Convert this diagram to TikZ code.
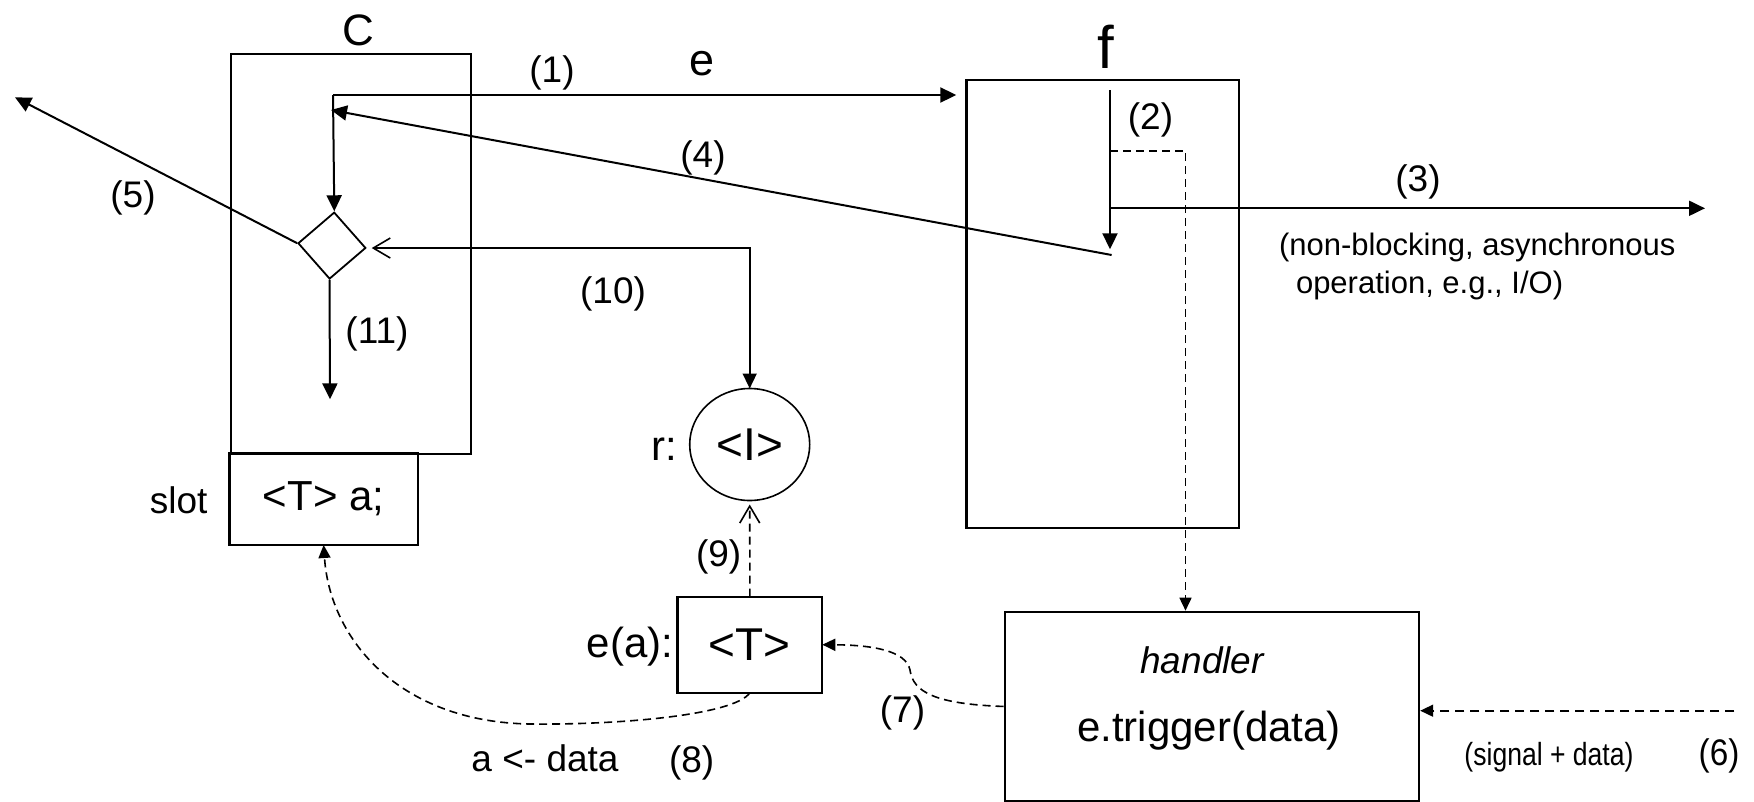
\documentclass[tikz,border=0pt]{standalone}
\usepackage{fontspec}
\setmainfont{Liberation Sans}
\usetikzlibrary{arrows.meta,shapes.geometric,calc}

\tikzset{
  fs/.style={font=\fontsize{#1}{#1}\selectfont, inner sep=0pt, outer sep=0pt},
  box/.style={draw, line width=2.2pt, inner sep=0pt, anchor=north west},
  solidarrow/.style={line width=2pt, -{Triangle[length=16pt,width=15pt]}},
  dasharrow/.style={line width=1.6pt, dash pattern=on 8pt off 5pt, -{Triangle[length=13pt,width=12pt]}},
  openbarb/.tip={Straight Barb[length=17pt,width=20pt,line width=1.6pt]},
}

\begin{document}
\begin{tikzpicture}[x=1pt,y=-1pt]
\useasboundingbox (0,0) rectangle (1754,801);
\fill[white] (0,0) rectangle (1754,801);

% caller C with its slot
\node[box, minimum width=240.5pt, minimum height=400.2pt] (cbox) at (229.5,52.5) {};
\node[box, minimum width=188.3pt, minimum height=92.3pt, fs=42] (slot) at (229.5,452.7) {<T> a;};
\node[fs=44] (clab) at (358,30) {C};
\node[fs=37] (slotlab) at (178.6,500) {slot};

% function f
\node[box, minimum width=272.5pt, minimum height=447.8pt] (fbox) at (965.3,78.7) {};
\node[fs=60] (flab) at (1106,47) {f};

% handler
\node[box, minimum width=414.5pt, minimum height=189.3pt] (hd) at (1003.5,610.7) {};
\node[fs=37] (hdname) at (1202,660) {\itshape handler};
\node[fs=42] (hdcall) at (1209,731) {e.trigger(data)};

% event e(a) and result r
\node[box, minimum width=144.8pt, minimum height=96pt, fs=46] (ea) at (677.5,596.7) {<T>};
\node[fs=42] (ealab) at (630,646.7) {e(a):};
\node[draw, ellipse, line width=1.6pt, minimum width=120pt, minimum height=112pt, inner sep=0pt, fs=46] (r) at (749.7,444.5) {<I>};
\node[fs=42] (rlab) at (664.7,449) {r:};

% decision inside C
\node[draw, diamond, aspect=1, line width=1.8pt, minimum width=68pt, minimum height=67pt, inner sep=0pt, rotate=-4] (dia) at (331.9,245.6) {};

% inner points
\coordinate (k1) at (333,95);
\coordinate (fa) at (1110,90);
\coordinate (fz) at (1110,249.3);
\coordinate (b2) at (1110,150.7);
\coordinate (b2e) at (1185.5,150.7);
\coordinate (b3) at (1110,208.3);
\coordinate (out3) at (1705,208.3);
\coordinate (f4) at (1111.6,255);
\coordinate (c4) at (331,110);
\coordinate (out5) at (15,97.3);
\coordinate (out11) at (330,399.3);
\coordinate (in6) at (1734.3,710.7);

% (1) call of f with e, and continuation down to the decision
\draw[solidarrow, shorten >=9pt] (k1) -- (k1 -| fbox.west);
\draw[solidarrow] (k1) -- (dia.north);
% (2) inside f
\draw[solidarrow] (fa) -- (fz);
\draw[dasharrow] (b2) -- (b2e) -- (b2e |- hd.north);
% (3) asynchronous operation
\draw[solidarrow] (b3) -- (out3);
% (4) return to C
\draw[solidarrow] (f4) -- (c4);
% (5) and (11) out of the decision
\draw[solidarrow] (dia.west) -- (out5);
\draw[solidarrow] (dia.south) -- (out11);
% (10) between decision and r
\draw[line width=1.6pt, {openbarb}-{Triangle[length=15pt,width=14pt]}, shorten <=5pt] (dia.east) -| (r.north);
% (9) e(a) to r
\draw[line width=1.6pt, dash pattern=on 8pt off 5pt, -{openbarb}, shorten >=4pt] (ea.north) -- (r.south);
% (6) signal into handler
\draw[dasharrow, dash pattern=on 9pt off 6pt] (in6) -- (in6 -| hd.east);
% (7) handler triggers e(a)
\draw[dasharrow] (hd.west) .. controls (935,704) and (913,692) .. (910,670)
  .. controls (906,650) and (870,645) .. (ea.east);
% (8) data into slot
\draw[dasharrow] (ea.south) .. controls (735,715) and (620,725) .. (530,724)
  .. controls (400,722) and (330,640) .. (slot.south);

% labels
\node[fs=37] (t1) at (552,73) {(1)};
\node[fs=45] (te) at (702,64) {e};
\node[fs=37] (t2) at (1150.5,120) {(2)};
\node[fs=37] (t3) at (1418,182) {(3)};
\node[fs=31, anchor=west] (t3a) at (1279,247) {(non-blocking, asynchronous};
\node[fs=31, anchor=west] (t3b) at (1296,285) {operation, e.g., I/O)};
\node[fs=37] (t4) at (703,158) {(4)};
\node[fs=37] (t5) at (133,198) {(5)};
\node[fs=37] (t10) at (613,294) {(10)};
\node[fs=37] (t11) at (377,334) {(11)};
\node[fs=37] (t9) at (718.7,556.7) {(9)};
\node[fs=37] (t7) at (902.5,712.5) {(7)};
\node[fs=37] (t8a) at (545,758) {a <- data};
\node[fs=37] (t8) at (691.7,762.5) {(8)};
\node[fs=32] (t6a) at (1549,757) {\scalebox{0.83}[1]{(signal + data)}};
\node[fs=37] (t6) at (1719,755.7) {\scalebox{0.9}[1]{(6)}};
\end{tikzpicture}
\end{document}
